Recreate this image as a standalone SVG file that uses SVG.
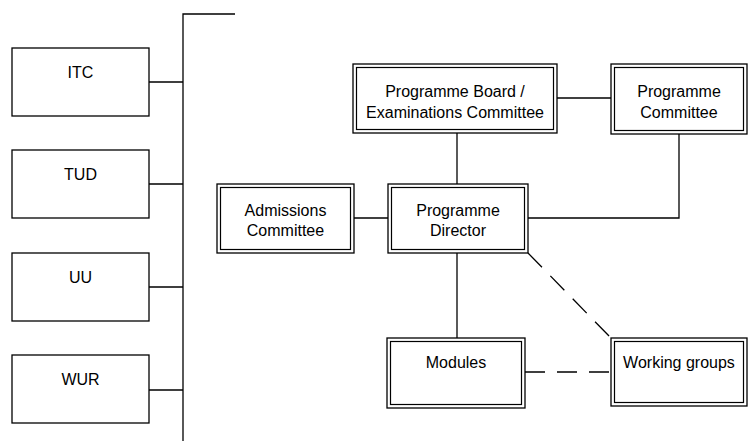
<svg xmlns="http://www.w3.org/2000/svg" width="752" height="441" viewBox="0 0 752 441">
<style>
.b{fill:#fff;stroke:#000;stroke-width:1.3}
.d{fill:none;stroke:#000;stroke-width:1.2}
.t{font-family:"Liberation Sans",Arial,sans-serif;font-size:16px;fill:#000;text-anchor:middle}
.c{fill:none;stroke:#000;stroke-width:1.3}
.dash{stroke-dasharray:20 12}
</style>
<rect width="752" height="441" fill="#fff"/>
<g id="connectors">
<path class="c" d="M183,441V14H235"/>
<path class="c" d="M149,82H183M149,184H183M149,287H183M149,390H183"/>
<path class="c" d="M557,98H611"/>
<path class="c" d="M457,133V184"/>
<path class="c" d="M457,253V338"/>
<path class="c" d="M354,218H388"/>
<path class="c" d="M679,134V218H528"/>
<path class="c dash" d="M528,253L611,338"/>
<path class="c dash" d="M525,372H611"/>
</g>
<g id="itc"><rect class="b" x="12" y="48" width="137" height="68"/><text class="t" x="80.5" y="78">ITC</text></g>
<g id="tud"><rect class="b" x="12" y="150" width="137" height="68"/><text class="t" x="80.5" y="180">TUD</text></g>
<g id="uu"><rect class="b" x="12" y="253" width="137" height="68"/><text class="t" x="80.5" y="283">UU</text></g>
<g id="wur"><rect class="b" x="12" y="355" width="137" height="68"/><text class="t" x="80.5" y="385">WUR</text></g>
<g id="board"><rect class="b" x="353" y="64" width="204" height="69"/><rect class="d" x="356.5" y="67.5" width="197" height="62"/><text class="t" x="455" y="97">Programme Board /</text><text class="t" x="455" y="118">Examinations Committee</text></g>
<g id="progcom"><rect class="b" x="611" y="64" width="136" height="70"/><rect class="d" x="614.5" y="67.5" width="129" height="63"/><text class="t" x="679" y="97">Programme</text><text class="t" x="679" y="118">Committee</text></g>
<g id="admissions"><rect class="b" x="217" y="184" width="137" height="69"/><rect class="d" x="220.5" y="187.5" width="130" height="62"/><text class="t" x="285.5" y="216">Admissions</text><text class="t" x="285.5" y="236">Committee</text></g>
<g id="director"><rect class="b" x="388" y="184" width="140" height="69"/><rect class="d" x="391.5" y="187.5" width="133" height="62"/><text class="t" x="458" y="216">Programme</text><text class="t" x="458" y="236">Director</text></g>
<g id="modules"><rect class="b" x="387" y="338" width="138" height="70"/><rect class="d" x="390.5" y="341.5" width="131" height="63"/><text class="t" x="456" y="368">Modules</text></g>
<g id="working"><rect class="b" x="611" y="338" width="136" height="68"/><rect class="d" x="614.5" y="341.5" width="129" height="61"/><text class="t" x="679" y="368">Working groups</text></g>
</svg>
